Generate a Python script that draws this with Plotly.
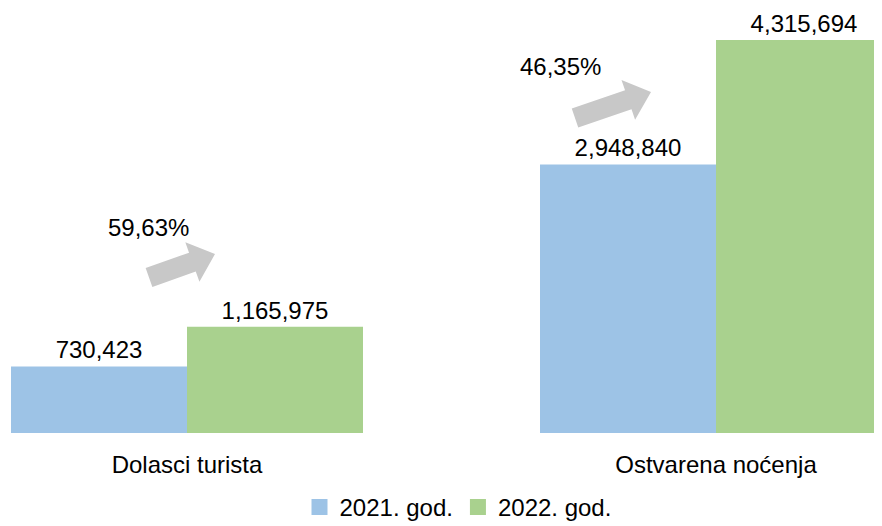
import plotly.graph_objects as go
import math

categories = ["Dolasci turista", "Ostvarena noćenja"]
series_names = ["2021. god.", "2022. god."]
values_2021 = [730423, 2948840]
values_2022 = [1165975, 4315694]
growth_labels = ["59,63%", "46,35%"]

colors = ["#9DC3E6", "#A9D18E"]
FONT = "Liberation Sans, Arial, sans-serif"
FS = 24

# the page body adds an 8px offset; size the figure so that it still fills the window
OFF = 8
W, H = 882 - OFF, 526 - OFF
ML, MR, MT, MB = 0, 0, 0, 93
PW, PH = W - ML - MR, H - MT - MB

fig = go.Figure()
for name, vals, col in zip(series_names, [values_2021, values_2022], colors):
    fig.add_trace(go.Bar(
        x=list(range(len(categories))), y=vals, name=name, marker_color=col,
        marker_line_width=0, showlegend=False,
        text=[f"{v:,}" for v in vals], textposition="outside",
        textfont=dict(family=FONT, size=FS, color="#000000"),
        cliponaxis=False,
    ))
for name, col in zip(series_names, colors):
    fig.add_trace(go.Scatter(
        x=[None], y=[None], mode="markers", name=name,
        marker=dict(symbol="square", size=18, color=col, line=dict(width=0)),
    ))

def px2paper(x, y):
    # screen pixel -> paper coordinate
    return (x - OFF - ML) / PW, 1 - (y - OFF - MT) / PH

def block_arrow(tail, tip, w1=10, w2=21, h=24):
    tx, ty = tail
    px_, py_ = tip
    L = math.hypot(px_ - tx, py_ - ty)
    ux, uy = (px_ - tx) / L, (py_ - ty) / L
    nx, ny = -uy, ux
    bx, by = px_ - ux * h, py_ - uy * h
    pts = [
        (tx + nx * w1, ty + ny * w1),
        (bx + nx * w1, by + ny * w1),
        (bx + nx * w2, by + ny * w2),
        (px_, py_),
        (bx - nx * w2, by - ny * w2),
        (bx - nx * w1, by - ny * w1),
        (tx - nx * w1, ty - ny * w1),
    ]
    pp = [px2paper(x, y) for x, y in pts]
    return "M " + " L ".join(f"{a:.5f},{b:.5f}" for a, b in pp) + " Z"

arrows = [((149, 277.5), (215, 254)), ((575, 118), (651, 92))]
label_pos = [(148, 227), (560, 67)]

shapes = []
annotations = []
for (tail, tip), lab, (lx, ly) in zip(arrows, growth_labels, label_pos):
    shapes.append(dict(type="path", path=block_arrow(tail, tip), xref="paper", yref="paper",
                       fillcolor="#C8C8C8", line=dict(width=0)))
    ax, ay = px2paper(lx, ly)
    annotations.append(dict(text=lab, x=ax, y=ay, xref="paper", yref="paper", showarrow=False,
                            xanchor="center", yanchor="middle",
                            font=dict(family=FONT, size=FS, color="#000000")))

scale = 529.0
x0 = -(187 - OFF - ML) / scale
x1 = x0 + PW / scale
ymax = 4315694 * PH / (433 - 40)

fig.update_layout(
    width=W, height=H,
    margin=dict(l=ML, r=MR, t=MT, b=MB, autoexpand=False),
    paper_bgcolor="white", plot_bgcolor="white",
    barmode="group", bargap=1 - 352 / 529, bargroupgap=0,
    font=dict(family=FONT, size=FS, color="#000000"),
    xaxis=dict(tickmode="array", tickvals=list(range(len(categories))), ticktext=categories,
               range=[x0, x1], showgrid=False, zeroline=False, showline=False,
               automargin=False,
               ticks="outside", ticklen=10, tickcolor="rgba(0,0,0,0)",
               tickfont=dict(family=FONT, size=FS, color="#000000")),
    yaxis=dict(range=[0, ymax], visible=False, automargin=False),
    legend=dict(orientation="h", x=(458 - OFF) / PW, xanchor="center", y=-(MB + 4) / PH,
                yanchor="bottom",
                font=dict(family=FONT, size=FS, color="#000000"), itemwidth=30,
                traceorder="normal"),
    shapes=shapes, annotations=annotations,
    showlegend=True,
)

fig.write_html("out.html")
